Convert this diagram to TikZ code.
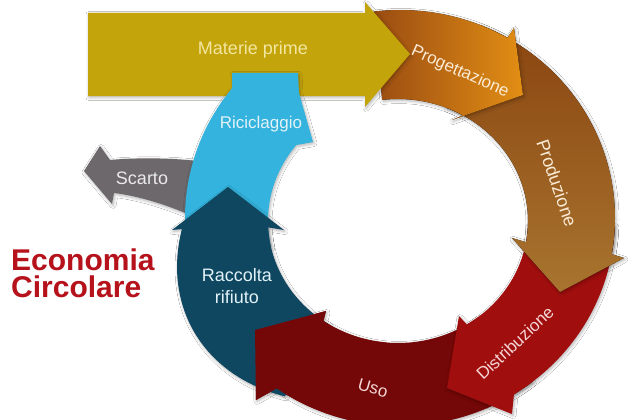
\documentclass[tikz,border=0pt]{standalone}
\usepackage{fontspec}
\setmainfont{Liberation Sans}
\usetikzlibrary{shadows.blur}
\definecolor{matC}{HTML}{C4A40B}
\definecolor{progA}{HTML}{9A4C12}
\definecolor{progB}{HTML}{E28E14}
\definecolor{prodA}{HTML}{8A4510}
\definecolor{prodB}{HTML}{A8742F}
\definecolor{distC}{HTML}{A10E0E}
\definecolor{usoC}{HTML}{740707}
\definecolor{racC}{HTML}{0F4760}
\definecolor{ricC}{HTML}{33B3DD}
\definecolor{scaC}{HTML}{6C686C}
\definecolor{ecoC}{HTML}{B5121B}
\definecolor{matT}{HTML}{F2E6A0}
\definecolor{warmT}{HTML}{FBEBD6}
\definecolor{redT}{HTML}{F5D6D6}
\definecolor{coolT}{HTML}{E2F2F8}
\definecolor{greyT}{HTML}{EBEBEB}
\begin{document}
\begin{tikzpicture}[x=1pt,y=-1pt,
  declare function={ox(\t)=400+215*cos(\t); oy(\t)=218-208*sin(\t);
                    ix(\t)=398+130*cos(\t); iy(\t)=221-122*sin(\t);
                    bx(\t)=ox(\t)+22*sin(3*(\t-180))*cos(\t);
                    by(\t)=oy(\t)-22*sin(3*(\t-180))*sin(\t);},
  lbl/.style={inner sep=0pt, font=\fontsize{17}{20}\selectfont},
  sh/.style={blur shadow={shadow blur steps=6, shadow xshift=1pt, shadow yshift=-1.5pt, shadow opacity=30, shadow blur radius=3pt}},
  ]
\fill[white] (0,0) rectangle (640,420);
\useasboundingbox (0,0) rectangle (640,420);

% Uso
\fill[usoC, sh] plot[domain=-52:-125,samples=40,variable=\t] ({ox(\t)},{oy(\t)})
  -- (256,400) -- (255,330) -- (326,311)
  -- plot[domain=-125:-52,samples=40,variable=\t] ({ix(\t)},{iy(\t)}) -- cycle;
% Distribuzione
\fill[distC, sh] plot[domain=-2:-58,samples=40,variable=\t] ({ox(\t)},{oy(\t)})
  -- (512,414) -- (447,388) -- (459,316)
  -- plot[domain=-58:-2,samples=40,variable=\t] ({ix(\t)},{iy(\t)}) -- cycle;
% Produzione
\fill[top color=prodA, bottom color=prodB, sh] plot[domain=68:-10,samples=40,variable=\t] ({ox(\t)},{oy(\t)})
  -- (624,258) -- (560,292) -- (512,238)
  -- plot[domain=-10:68,samples=40,variable=\t] ({ix(\t)},{iy(\t)}) -- cycle;
% Progettazione
\fill[left color=progA, right color=progB, sh] plot[domain=97:60,samples=30,variable=\t] ({ox(\t)},{oy(\t)})
  -- (514,28) -- (523,95) -- (452,120)
  -- plot[domain=60:97,samples=30,variable=\t] ({ix(\t)},{iy(\t)}) -- cycle;
% Materie prime
\fill[matC, sh] (88,13) -- (365,13) -- (365,2) -- (410,54) -- (365,107) -- (365,96) -- (88,96) -- cycle;
% Scarto
\fill[scaC, sh] (205,162) .. controls (170,157) and (130,158) .. (110,160)
  -- (100,146) -- (84,171) -- (112,204) -- (114,193)
  .. controls (140,196) and (175,207) .. (205,222) -- cycle;
% Riciclaggio
\fill[ricC, sh] plot[domain=192:145.5,samples=30,variable=\t] ({ox(\t)},{oy(\t)})
  -- (229,92) -- (232,88) -- (232,73) -- (298,73) -- (299,93) -- (313,142)
  -- plot[domain=141.5:192,samples=30,variable=\t] ({ix(\t)},{iy(\t)}) -- cycle;
% Raccolta rifiuto
\fill[racC, sh] plot[domain=238:183,samples=40,variable=\t] ({bx(\t)},{by(\t)})
  -- (172,230) -- (228,187) -- (284,230)
  -- plot[domain=183:238,samples=40,variable=\t] ({ix(\t)},{iy(\t)}) -- cycle;
% Uso head on top
\fill[usoC] plot[domain=-95:-125,samples=20,variable=\t] ({ox(\t)},{oy(\t)})
  -- (256,400) -- (255,330) -- (326,311)
  -- plot[domain=-125:-95,samples=20,variable=\t] ({ix(\t)},{iy(\t)}) -- cycle;

% labels
\node[lbl, text=matT, font=\fontsize{18}{20}\selectfont] (tmat) at (253,50) {Materie prime};
\node[lbl, text=warmT, rotate=-24] (tprog) at (460,72) {Progettazione};
\node[lbl, text=warmT, rotate=-71, font=\fontsize{18}{20}\selectfont] (tprod) at (557,183) {Produzione};
\node[lbl, text=redT, rotate=43] (tdist) at (515,343) {Distribuzione};
\node[lbl, text=redT, rotate=-16] (tuso) at (373,388) {Uso};
\node[lbl, text=coolT, align=center, font=\fontsize{18}{22}\selectfont] (trac) at (237,286) {Raccolta\\rifiuto};
\node[lbl, text=coolT] (tric) at (261,124) {Riciclaggio};
\node[lbl, text=greyT, font=\fontsize{18}{20}\selectfont] (tsca) at (142,178) {Scarto};
\node[inner sep=0pt, anchor=base west, text=ecoC, font=\fontsize{30}{30}\selectfont\bfseries] (teco1) at (11,270) {Economia};
\node[inner sep=0pt, anchor=base west, text=ecoC, font=\fontsize{30}{30}\selectfont\bfseries] (teco2) at (11,297) {Circolare};
\end{tikzpicture}
\end{document}
